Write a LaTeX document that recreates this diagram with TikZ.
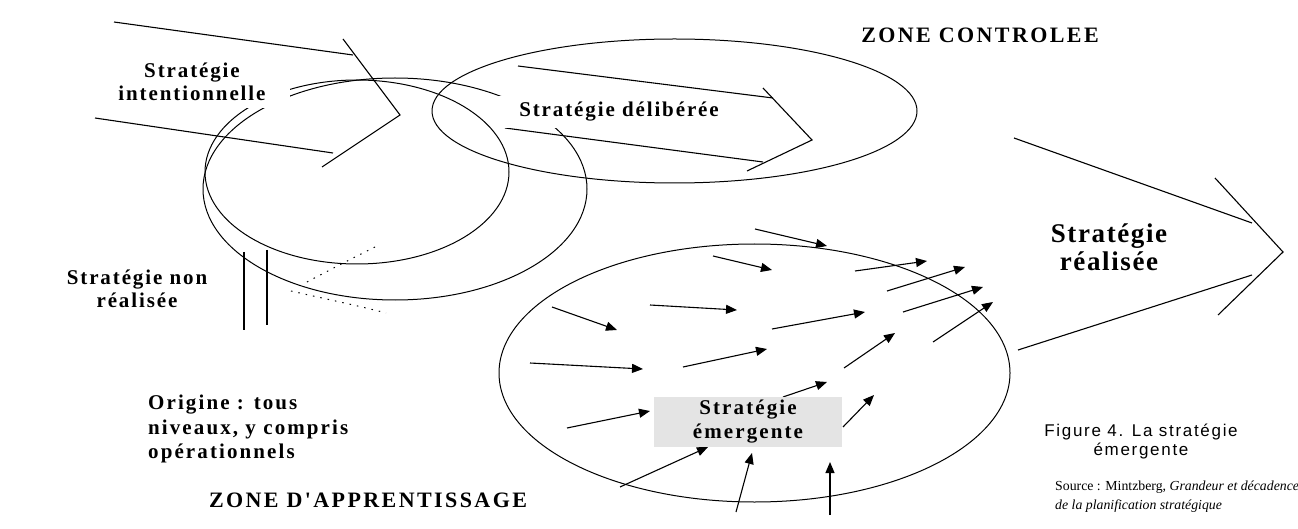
\documentclass[tikz,border=0pt]{standalone}
\usepackage{fontspec}
\setmainfont{Liberation Serif}
\newfontfamily\arialf{Liberation Sans}
\newfontfamily\rawserif[Ligatures=TeXOff]{Liberation Serif}
\usetikzlibrary{arrows.meta}
\begin{document}
\begin{tikzpicture}[x=1pt,y=-1pt,
  ln/.style={line width=1.1pt},
  el/.style={line width=1pt},
  sa/.style={line width=1.1pt,-{Triangle[length=11pt,width=9pt]}},
  lbl/.style={font=\fontsize{21}{23}\selectfont\bfseries\addfontfeatures{LetterSpace=9},align=center,inner sep=0pt},
  zone/.style={font=\rawserif\fontsize{22}{24}\selectfont\bfseries\addfontfeatures{LetterSpace=11},inner sep=0pt},
  dots/.style={line width=1pt,dash pattern=on 1.5pt off 6pt}
]
\useasboundingbox (0,0) rectangle (1298,529);
\fill[white] (0,0) rectangle (1298,529);

% ellipses
\draw[el] (357,172) ellipse [x radius=152pt, y radius=92pt];
\draw[el] (395,189) ellipse [x radius=192pt, y radius=111pt];
\draw[el] (674.5,111) ellipse [x radius=242.5pt, y radius=72pt];
\draw[el] (754.5,373) ellipse [x radius=255.5pt, y radius=129pt];

% dotted traces
\draw[dots] (375,247) .. controls (345,262) .. (305,283);
\draw[dots] (291,291) .. controls (330,300) and (360,306) .. (386,313);

% vertical double line
\coordinate (v1a) at (244,252); \coordinate (v1b) at (244,330);
\coordinate (v2a) at (267,250); \coordinate (v2b) at (267,325);
\draw[ln] (v1a) -- (v1b);
\draw[ln] (v2a) -- (v2b);

% intentional strategy arrow
\draw[ln] (114,22) -- (353,55);
\draw[ln] (343,39) -- (400,115) -- (322,167);
\draw[ln] (95,118) -- (333,153);

% deliberate strategy arrow
\draw[ln] (518,66) -- (773,98);
\draw[ln] (763,88) -- (812,140) -- (747,171);
\draw[ln] (505,128) -- (763,162);

% realised strategy arrow
\draw[ln] (1014,138) -- (1252,223);
\draw[ln] (1215,178) -- (1283,252) -- (1218,315);
\draw[ln] (1018,350) -- (1252,275);

% small emergent arrows
\foreach \a/\b/\c/\d in {
  755/229/827/246, 713/256/772/270, 855/271/927/261, 887/291/965/267,
  903/312/983/287, 933/342/993/302, 552/307/617/330, 650/305/737/310,
  772/329/865/312, 530/363/643/369, 683/367/767/349, 844/368/895/333,
  783/397/827/382, 843/427/874/395, 567/428/650/411, 620/487/708/447,
  736/512/752/453, 830/515/830/462}
  \draw[sa] (\a,\b) -- (\c,\d);

% labels
\node[lbl, fill=white, minimum width=195pt, minimum height=53pt] (int) at (192,81.5) {Stratégie\\intentionnelle};
\node[lbl, fill=white, minimum width=242pt, minimum height=32pt] (del) at (619,112) {Stratégie délibérée};
\node[lbl, font=\fontsize{27}{28}\selectfont\bfseries\addfontfeatures{LetterSpace=6}] (rea) at (1109,247) {Stratégie\\réalisée};
\node[lbl] (non) at (137,289) {Stratégie non\\réalisée};
\node[lbl, align=left, anchor=north west, font=\fontsize{21}{24.5}\selectfont\bfseries\addfontfeatures{LetterSpace=10}] (ori) at (148,395) {Origine : tous\\niveaux, y compris\\opérationnels};
\node[lbl, fill={rgb,255:red,228;green,228;blue,228}, minimum width=188pt, minimum height=50pt, font=\fontsize{21}{24}\selectfont\bfseries\addfontfeatures{LetterSpace=10}] (eme) at (748,422) {Stratégie\\émergente};
\node[zone] (zc) at (980,35) {ZONE CONTROLEE};
\node[zone] (za) at (368,500) {ZONE D'APPRENTISSAGE};
\node[align=center, inner sep=0pt, font=\arialf\fontsize{17}{19}\selectfont\addfontfeatures{LetterSpace=10}] (fig) at (1141,442) {Figure 4. La stratégie\\émergente};
\node[align=left, anchor=west, inner sep=0pt, font=\fontsize{13.8}{19}\selectfont] (src) at (1055,497) {Source : Mintzberg, \textit{Grandeur et décadence}\\\textit{de la planification stratégique}};
\end{tikzpicture}
\end{document}
